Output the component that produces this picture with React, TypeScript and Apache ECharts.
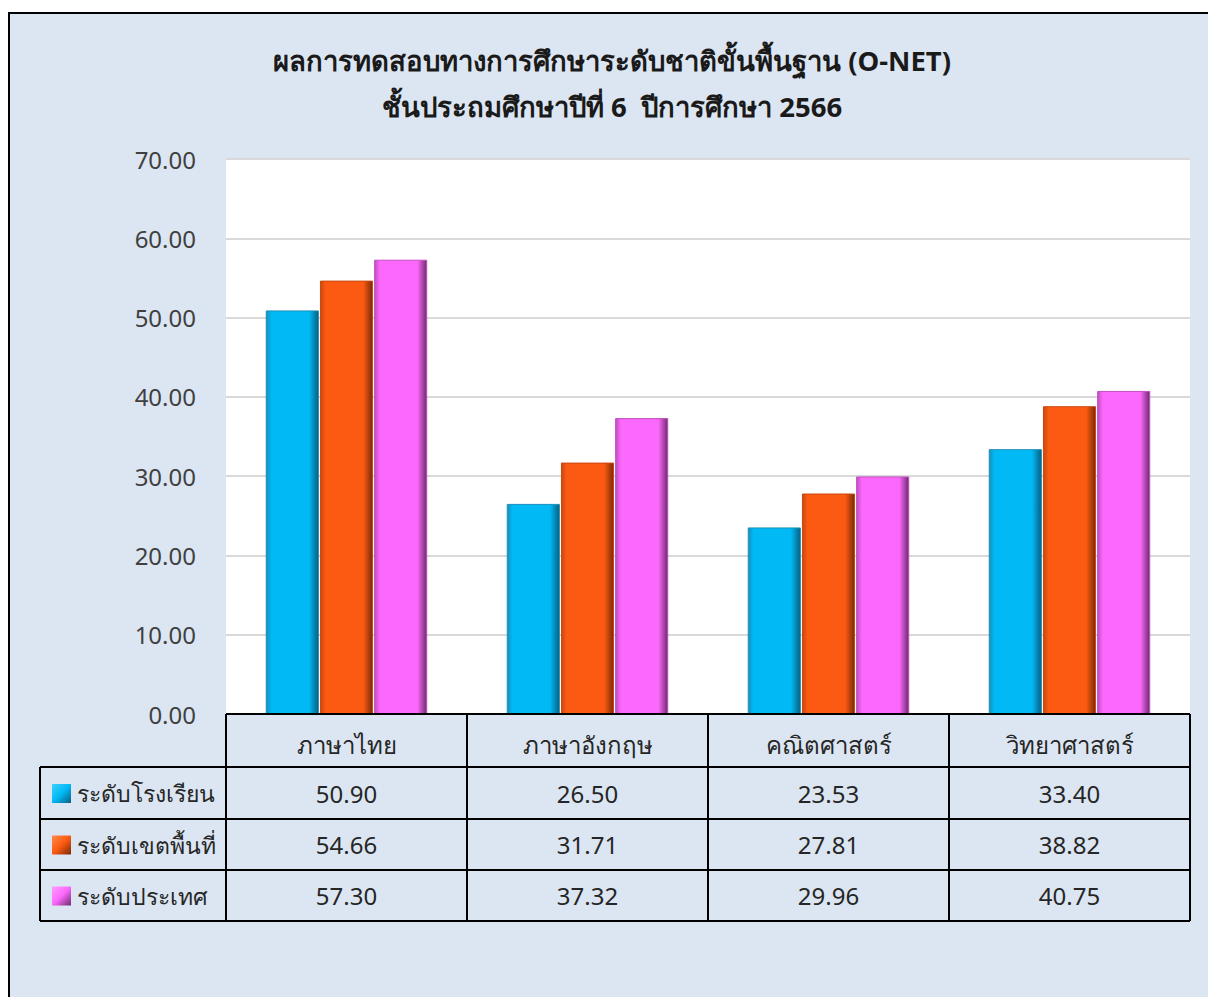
import React, { useEffect, useRef } from "react";
import * as echarts from "echarts";

const titleLines = [
  "ผลการทดสอบทางการศึกษาระดับชาติขั้นพื้นฐาน (O-NET)",
  "ชั้นประถมศึกษาปีที่ 6  ปีการศึกษา 2566",
];
const categories = ["ภาษาไทย", "ภาษาอังกฤษ", "คณิตศาสตร์", "วิทยาศาสตร์"];
const seriesNames = ["ระดับโรงเรียน", "ระดับเขตพื้นที่", "ระดับประเทศ"];
const schoolValues = [50.9, 26.5, 23.53, 33.4];
const areaValues = [54.66, 31.71, 27.81, 38.82];
const nationValues = [57.3, 37.32, 29.96, 40.75];
const yTicks = [0, 10, 20, 30, 40, 50, 60, 70];

const seriesValues = [schoolValues, areaValues, nationValues];
const palette = [
  { light: "#3fd0ff", main: "#00b9f5", dark: "#0a5f80", edge: "#1b8fb8" },
  { light: "#ff8a4a", main: "#fc5a12", dark: "#7a2a06", edge: "#c8480f" },
  { light: "#ff9cff", main: "#fb68fb", dark: "#6e2a6e", edge: "#c04fc0" },
];

const FONT = "Tahoma, 'Noto Sans', 'DejaVu Sans', sans-serif";

const GRID_L = 226;
const GRID_R = 1190;
const GRID_T = 159;
const GRID_B = 714;
const W = 1208;
const H = 997;
const TABLE_L = 40;
const ROWS = [714, 767, 819, 870, 921];

function barGradient(c: { light: string; main: string; dark: string; edge: string }) {
  return new echarts.graphic.LinearGradient(0, 0, 1, 0, [
    { offset: 0, color: c.edge },
    { offset: 0.1, color: c.main },
    { offset: 0.82, color: c.main },
    { offset: 1, color: c.dark },
  ]);
}

export default function App() {
  const ref = useRef<HTMLDivElement>(null);
  useEffect(() => {
    if (!ref.current) return;
    const chart = echarts.init(ref.current, undefined, { renderer: "svg" });
    const catW = (GRID_R - GRID_L) / categories.length;
    const graphics: any[] = [];
    graphics.push({
      type: "rect",
      z: -10,
      silent: true,
      shape: { x: 9, y: 13, width: 1220, height: 1000 },
      style: { fill: "#dce6f2", stroke: "#000", lineWidth: 2 },
    });
    graphics.push({
      type: "rect",
      z: -9,
      silent: true,
      shape: { x: GRID_L, y: GRID_T, width: GRID_R - GRID_L, height: GRID_B - GRID_T },
      style: { fill: "#ffffff" },
    });
    titleLines.forEach((t, i) => {
      graphics.push({
        type: "text",
        x: 612,
        y: 60 + i * 46,
        style: {
          text: t,
          fontFamily: FONT,
          fontSize: 27.5,
          fontWeight: "bold",
          fill: "#1a1a1a",
          textAlign: "center",
          textVerticalAlign: "middle",
        },
      });
    });
    const line = (x1: number, y1: number, x2: number, y2: number) => ({
      type: "line",
      z: 50,
      silent: true,
      shape: { x1, y1, x2, y2 },
      style: { stroke: "#000", lineWidth: 2 },
    });
    graphics.push(line(GRID_L, ROWS[0], GRID_R, ROWS[0]));
    for (let r = 1; r < ROWS.length; r++) graphics.push(line(TABLE_L, ROWS[r], GRID_R, ROWS[r]));
    graphics.push(line(TABLE_L, ROWS[1], TABLE_L, ROWS[ROWS.length - 1]));
    for (let c = 0; c <= categories.length; c++) {
      const x = GRID_L + c * catW;
      graphics.push(line(x, ROWS[0], x, ROWS[ROWS.length - 1]));
    }
    seriesNames.forEach((name, s) => {
      const yc = (ROWS[s + 1] + ROWS[s + 2]) / 2;
      const c = palette[s];
      graphics.push({
        type: "rect",
        z: 40,
        shape: { x: 52, y: yc - 9, width: 19, height: 19 },
        style: {
          fill: new echarts.graphic.LinearGradient(0, 0, 1, 1, [
            { offset: 0, color: c.light },
            { offset: 0.5, color: c.main },
            { offset: 1, color: c.dark },
          ]),
        },
      });
      graphics.push({
        type: "text",
        z: 40,
        x: 77,
        y: yc,
        style: {
          text: name,
          fontFamily: FONT,
          fontSize: 23,
          fill: "#262626",
          textAlign: "left",
          textVerticalAlign: "middle",
        },
      });
      seriesValues[s].forEach((v, k) => {
        graphics.push({
          type: "text",
          z: 40,
          x: GRID_L + (k + 0.5) * catW,
          y: yc,
          style: {
            text: v.toFixed(2),
            fontFamily: FONT,
            fontSize: 24,
            fill: "#262626",
            textAlign: "center",
            textVerticalAlign: "middle",
          },
        });
      });
    });

    chart.setOption({
      animation: false,
      backgroundColor: "#ffffff",
      grid: { left: GRID_L, right: W - GRID_R, top: GRID_T, bottom: H - GRID_B, containLabel: false },
      xAxis: {
        type: "category",
        data: categories,
        axisLine: { show: false },
        axisTick: { show: false },
        axisLabel: {
          margin: 30,
          verticalAlign: "middle",
          fontFamily: FONT,
          fontSize: 24,
          color: "#262626",
        },
      },
      yAxis: {
        type: "value",
        min: yTicks[0],
        max: yTicks[yTicks.length - 1],
        interval: 10,
        axisLine: { show: false },
        axisTick: { show: false },
        axisLabel: {
          margin: 30,
          fontFamily: FONT,
          fontSize: 24,
          color: "#404040",
          formatter: (v: number) => v.toFixed(2),
        },
        splitLine: { lineStyle: { color: "#d9d9d9", width: 2 } },
      },
      series: seriesNames.map((name, s) => ({
        type: "bar",
        name,
        data: seriesValues[s],
        barGap: "2%",
        barCategoryGap: "33%",
        itemStyle: {
          color: barGradient(palette[s]),
          borderColor: palette[s].edge,
          borderWidth: 1,
        },
      })),
      graphic: { elements: graphics },
    });
    return () => chart.dispose();
  }, []);
  return (
    <div
      ref={ref}
      style={{ position: "absolute", left: 0, top: 0, width: W, height: H }}
    />
  );
}
